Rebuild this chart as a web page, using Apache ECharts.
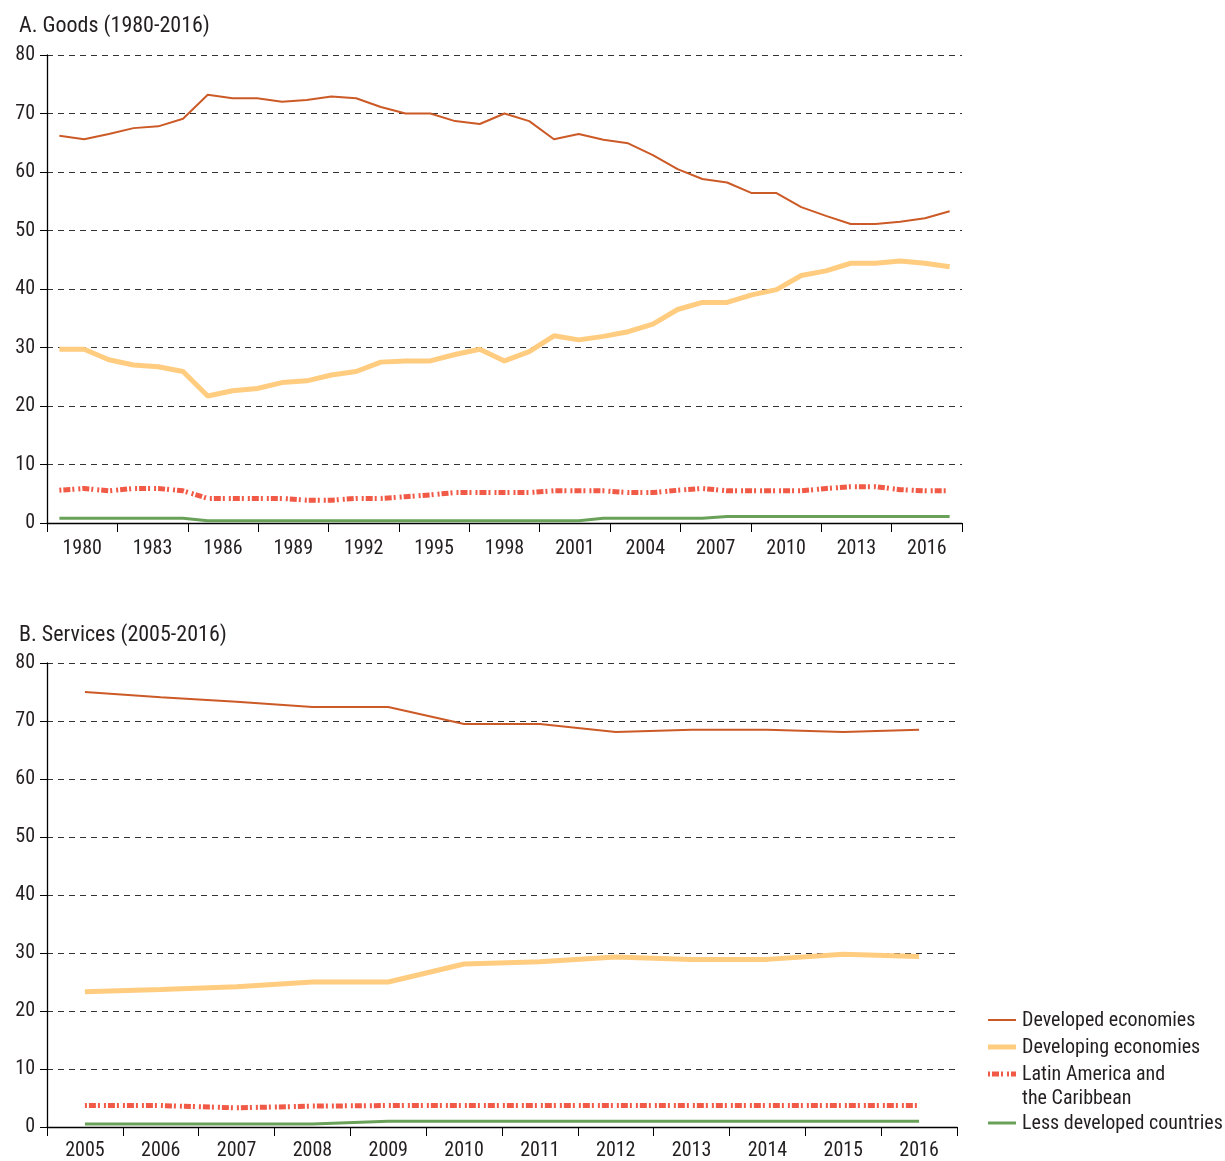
<!DOCTYPE html>
<html>
<head>
<meta charset="utf-8">
<script src="https://cdn.jsdelivr.net/npm/echarts@6/dist/echarts.min.js"></script>
<style>
html,body{margin:0;padding:0;background:#fff;}
#chart{width:1225px;height:1161px;}
</style>
</head>
<body>
<div id="chart"></div>
<script>
// ---- Data ----
const goodsYears = [];
for (let y = 1980; y <= 2016; y++) goodsYears.push(String(y));
const goodsTickLabels = ['1980','1983','1986','1989','1992','1995','1998','2001','2004','2007','2010','2013','2016'];

const goodsDeveloped = [66.2,65.6,66.5,67.5,67.8,69.1,73.2,72.6,72.6,72.0,72.3,72.9,72.6,71.1,70.0,70.0,68.7,68.2,70.0,68.7,65.6,66.5,65.5,64.9,62.9,60.5,58.8,58.2,56.4,56.4,54.0,52.5,51.1,51.1,51.5,52.1,53.3];
const goodsDeveloping = [29.7,29.7,27.9,27.0,26.7,25.9,21.7,22.6,23.0,24.0,24.3,25.3,25.9,27.5,27.7,27.7,28.8,29.7,27.7,29.3,32.0,31.3,31.9,32.7,34.0,36.5,37.7,37.7,39.0,39.9,42.3,43.1,44.4,44.4,44.8,44.4,43.8];
const goodsLatAm = [5.6,5.9,5.5,5.9,5.9,5.5,4.2,4.2,4.2,4.2,3.9,3.9,4.2,4.2,4.5,4.8,5.2,5.2,5.2,5.2,5.5,5.5,5.5,5.2,5.2,5.6,5.9,5.5,5.5,5.5,5.5,5.9,6.2,6.2,5.7,5.5,5.5];
const goodsLDC = [0.8,0.8,0.8,0.8,0.8,0.8,0.4,0.4,0.4,0.4,0.4,0.4,0.4,0.4,0.4,0.4,0.4,0.4,0.4,0.4,0.4,0.4,0.8,0.8,0.8,0.8,0.8,1.1,1.1,1.1,1.1,1.1,1.1,1.1,1.1,1.1,1.1];

const servYears = ['2005','2006','2007','2008','2009','2010','2011','2012','2013','2014','2015','2016'];
const servDeveloped = [75.0,74.1,73.3,72.4,72.4,69.5,69.5,68.1,68.5,68.5,68.1,68.5];
const servDeveloping = [23.3,23.7,24.2,25.0,25.0,28.1,28.5,29.3,28.9,28.9,29.8,29.4];
const servLatAm = [3.7,3.7,3.3,3.6,3.7,3.7,3.7,3.7,3.7,3.7,3.7,3.7];
const servLDC = [0.5,0.5,0.5,0.5,1.0,1.0,1.0,1.0,1.0,1.0,1.0,1.0];

const names = ['Developed economies','Developing economies','Latin America and\nthe Caribbean','Less developed countries'];
const titles = ['A. Goods (1980-2016)','B. Services (2005-2016)'];

// ---- Styles ----
const FONT = "'Roboto Condensed','Open Sans',sans-serif";
const TXT = '#231f20';
const FS = 20;
const styles = [
  {color:'#cc5a27', width:2, type:'solid'},
  {color:'#ffcc80', width:5, type:'solid'},
  {color:'#f15a46', width:5, type:[2,2,7,2,2,4]},
  {color:'#6aa159', width:3, type:'solid'}
];

function yAxis(gi){
  return {
    type:'value', gridIndex:gi, min:0, max:80, interval:10,
    axisLine:{show:true, lineStyle:{color:'#000', width:1.3}},
    axisTick:{show:true, length:7, lineStyle:{color:'#000'}},
    axisLabel:{color:TXT, fontFamily:FONT, fontSize:FS, margin:12},
    splitLine:{show:true, lineStyle:{color:'#333', type:[6,5], width:1}}
  };
}

function mkSeries(i, data, xi, yi){
  return {
    name:names[i], type:'line', xAxisIndex:xi, yAxisIndex:yi, data:data,
    symbol:'none', smooth:false, z: 10 - i + (i===0?5:0),
    lineStyle:{color:styles[i].color, width:styles[i].width, type:styles[i].type, cap:'butt'},
    itemStyle:{color:styles[i].color},
    emphasis:{disabled:true}
  };
}

// legend built from names + styles
const legendRows = [1021, 1048, 1075, 1124];
const legendEls = [];
names.forEach((n, i) => {
  const y = legendRows[i];
  const lines = n.split('\n');
  legendEls.push({
    type:'line', silent:true,
    shape:{x1:988, y1:y-1, x2:1016, y2:y-1},
    style:{stroke:styles[i].color, lineWidth:styles[i].width, lineDash: Array.isArray(styles[i].type) ? styles[i].type : null, lineCap:'butt'}
  });
  lines.forEach((t, k) => {
    legendEls.push({
      type:'text', silent:true, x:1022, y:y + k*24,
      style:{text:t, fill:TXT, font: FS + "px " + FONT, textVerticalAlign:'middle', textAlign:'left'}
    });
  });
});

const option = {
  animation:false,
  backgroundColor:'#fff',
  title:[
    {text:titles[0], left:14, top:10, textStyle:{fontFamily:FONT, fontSize:22, fontWeight:'normal', color:TXT}},
    {text:titles[1], left:14, top:619, textStyle:{fontFamily:FONT, fontSize:22, fontWeight:'normal', color:TXT}}
  ],
  grid:[
    {left:47, top:55, width:915, height:468, containLabel:false},
    {left:47, top:663, width:910, height:465, containLabel:false}
  ],
  xAxis:[
    {type:'category', gridIndex:0, data:goodsYears, boundaryGap:true, show:false},
    {type:'category', gridIndex:0, data:goodsTickLabels, boundaryGap:true, position:'bottom',
     axisLine:{show:true, lineStyle:{color:'#000', width:1.3}},
     axisTick:{show:true, length:9, lineStyle:{color:'#000'}},
     axisLabel:{color:TXT, fontFamily:FONT, fontSize:FS, margin:16},
     splitLine:{show:false}},
    {type:'category', gridIndex:1, data:servYears, boundaryGap:true,
     axisLine:{show:true, lineStyle:{color:'#000', width:1.3}},
     axisTick:{show:true, length:9, lineStyle:{color:'#000'}},
     axisLabel:{color:TXT, fontFamily:FONT, fontSize:FS, margin:14},
     splitLine:{show:false}}
  ],
  yAxis:[yAxis(0), yAxis(1)],
  graphic: legendEls,
  series:[
    mkSeries(3, goodsLDC, 0, 0),
    mkSeries(2, goodsLatAm, 0, 0),
    mkSeries(1, goodsDeveloping, 0, 0),
    mkSeries(0, goodsDeveloped, 0, 0),
    mkSeries(3, servLDC, 2, 1),
    mkSeries(2, servLatAm, 2, 1),
    mkSeries(1, servDeveloping, 2, 1),
    mkSeries(0, servDeveloped, 2, 1)
  ]
};

const chart = echarts.init(document.getElementById('chart'), null, {renderer:'canvas'});
chart.setOption(option);
</script>
</body>
</html>
